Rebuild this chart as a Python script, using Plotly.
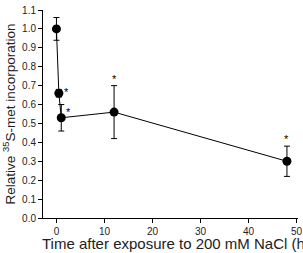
import plotly.graph_objects as go

time_h = [0, 0.5, 1, 12, 48]
rel_incorp = [1.00, 0.66, 0.53, 0.56, 0.30]
err = [0.06, 0.02, 0.07, 0.14, 0.08]
signif = ["", "*", "*", "*", "*"]
y_ticks = [round(0.1 * i, 1) for i in range(12)]
x_ticks = [0, 10, 20, 30, 40, 50]

FONT = "Liberation Sans, Arial, sans-serif"
TXT = "#222222"

fig = go.Figure()
fig.add_trace(go.Scatter(
    x=time_h, y=rel_incorp, mode="lines+markers",
    line=dict(color="black", width=1),
    marker=dict(color="black", size=9),
    error_y=dict(type="data", array=err, visible=True, color="black", thickness=1, width=3),
    showlegend=False, cliponaxis=False,
))

# significance asterisks
offsets = {1: (8, 1), 2: (7, 6)}
for i, s in enumerate(signif):
    if not s:
        continue
    if i in (3, 4):
        fig.add_annotation(x=time_h[i], y=rel_incorp[i] + err[i], text=s, showarrow=False,
                           yanchor="bottom", yshift=-1,
                           font=dict(size=11, color="#000000", family=FONT))
    else:
        dx, dy = offsets[i]
        fig.add_annotation(x=time_h[i], y=rel_incorp[i], text=s, showarrow=False,
                           xshift=dx, yshift=dy,
                           font=dict(size=11, color="#000000", family=FONT))

fig.add_annotation(xref="paper", yref="paper", x=-0.01, y=0, yshift=-15,
                   xanchor="left", yanchor="top", showarrow=False,
                   text="Time after exposure to 200 mM NaCl (h)",
                   font=dict(size=15, color=TXT, family=FONT))

fig.update_layout(
    width=303, height=253,
    margin=dict(l=43, r=0, t=10, b=35),
    paper_bgcolor="white", plot_bgcolor="white",
    font=dict(family=FONT, color=TXT),
    xaxis=dict(range=[-2.8, 50.3], tickvals=x_ticks, showline=True, linecolor="black",
               linewidth=1, ticks="outside", ticklen=4, tickcolor="black",
               showgrid=False, zeroline=False, tickfont=dict(size=10, color=TXT),
               ticklabeloverflow="allow"),
    yaxis=dict(range=[0, 1.1], tickvals=y_ticks, tickformat=".1f", showline=True,
               linecolor="black", linewidth=1, ticks="outside", ticklen=4,
               tickcolor="black", showgrid=False, zeroline=False,
               tickfont=dict(size=10, color=TXT),
               title=dict(text="Relative <sup>35</sup>S-met incorporation",
                          font=dict(size=13.5, color=TXT), standoff=5)),
)

fig.write_html("out.html")
